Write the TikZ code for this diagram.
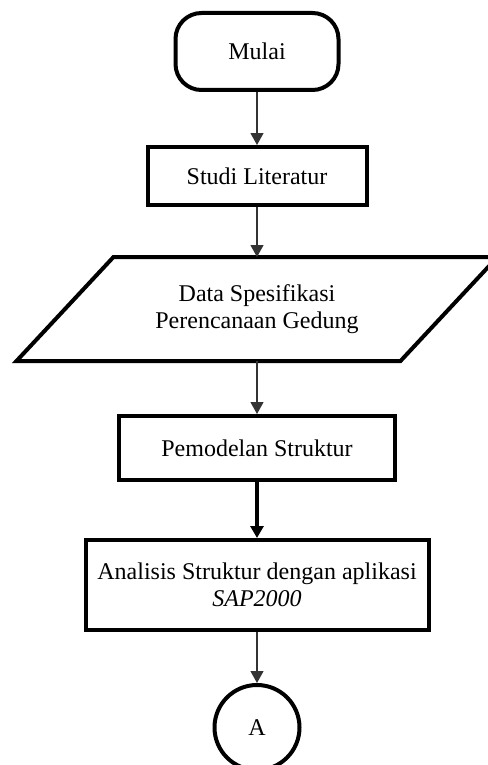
\documentclass[tikz,border=0pt]{standalone}
\usepackage{fontspec}
\setmainfont{Liberation Serif}
\usetikzlibrary{positioning,arrows.meta}

\begin{document}
\begin{tikzpicture}[>={Triangle[width=6.5pt,length=6pt]},
  every node/.style={draw, line width=2pt, align=center, font=\fontsize{12}{13.5}\selectfont},
  terminal/.style={rectangle, rounded corners=13pt, minimum width=81.5pt, minimum height=38.5pt},
  proses/.style={rectangle, minimum height=29pt},
  dataio/.style={rectangle, draw=none, minimum width=190pt, minimum height=50pt},
  konektor/.style={circle, minimum size=42.5pt, inner sep=0pt},
  panah/.style={->, line width=0.6pt, black!80}]
  \useasboundingbox (0,0) rectangle (243.5pt,-382.5pt);
  \node[terminal] (mulai) at (128.5pt,-25.75pt) {Mulai};
  \node[proses, minimum width=109.5pt, below=26.5pt of mulai] (studi) {Studi Literatur};
  \node[dataio, below=25pt of studi] (data) {Data Spesifikasi\\Perencanaan Gedung};
  \node[proses, minimum width=138pt, minimum height=32pt, below=26.5pt of data] (model) {Pemodelan Struktur};
  \node[proses, minimum width=171.5pt, minimum height=45pt, below=28pt of model] (analisis) {Analisis Struktur dengan aplikasi\\\textit{SAP2000}};
  \node[konektor, below=25.5pt of analisis] (a) {A};
  % jajaran genjang untuk data
  \draw[line width=2pt] ([xshift=24.25pt]data.north west) -- ([xshift=24.25pt]data.north east)
    -- ([xshift=-24.25pt]data.south east) -- ([xshift=-24.25pt]data.south west) -- cycle;
  \draw[panah] (mulai) -- (studi);
  \draw[panah] (studi) -- (data);
  \draw[panah] (data) -- (model);
  \draw[->, line width=1.6pt] (model) -- (analisis);
  \draw[panah] (analisis) -- (a);
\end{tikzpicture}
\end{document}
